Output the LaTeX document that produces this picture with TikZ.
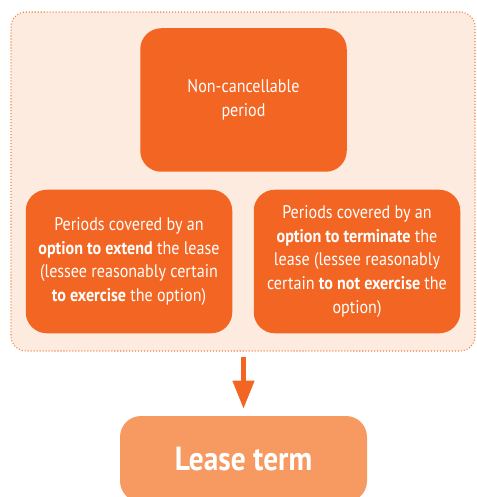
\documentclass[tikz,border=0pt]{standalone}
\usepackage{fontspec}
\usetikzlibrary{arrows.meta}
\setmainfont{PT Sans}[FakeStretch=0.88]
\definecolor{leaseorange}{RGB}{242,101,34}
\definecolor{leaselight}{RGB}{247,154,98}
\definecolor{leasebg}{RGB}{253,235,223}
\definecolor{leasedot}{RGB}{244,128,70}
\begin{document}
\begin{tikzpicture}[>=latex, font=\fontsize{10.4}{13.6}\selectfont,
        periodbox/.style={fill=leaseorange, text=white, rounded corners=0.42cm,
            minimum width=4.13cm, minimum height=2.87cm, align=center, inner sep=0pt},
        termbox/.style={fill=leaselight, text=white, rounded corners=0.42cm,
            minimum width=4.94cm, minimum height=1.72cm, align=center,
            font=\fontsize{19}{22}\selectfont\bfseries}]

        \useasboundingbox (0,0) rectangle (9.52,-9.94);

        % -----------------------
        % 1. Outer dotted frame
        % -----------------------
        \node[fill=leasebg, draw=leasedot, line width=0.6pt, dash pattern=on 0.6pt off 1.1pt,
            rounded corners=0.3cm, minimum width=9.28cm, minimum height=6.78cm,
            inner sep=0pt] (frame) at (4.86, -3.63) {};

        % -----------------------
        % 2. Period boxes
        % -----------------------
        \node[periodbox] (noncancel) at (4.87, -2.0) {Non-cancellable\\period};

        \node[periodbox] (extend) at (2.58, -5.23) {
            Periods covered by an\\
            \textbf{option to extend} the lease\\
            (lessee reasonably certain\\
            \textbf{to exercise} the option)
        };

        \node[periodbox] (terminate) at (7.14, -5.23) {
            Periods covered by an\\
            \textbf{option to terminate} the\\
            lease (lessee reasonably\\
            certain \textbf{to not exercise} the\\
            option)
        };

        % -----------------------
        % 3. Lease term
        % -----------------------
        \node[termbox] (term) at (4.87, -9.18) {Lease term};

        % -----------------------
        % Relationship (arrow)
        % -----------------------
        \draw[leaseorange, line width=2.6pt, shorten <=0.1cm, shorten >=0.14cm,
            -{Triangle[length=0.56cm, width=0.42cm]}] (frame.south -| term.north) -- (term.north);

    \end{tikzpicture}
\end{document}
